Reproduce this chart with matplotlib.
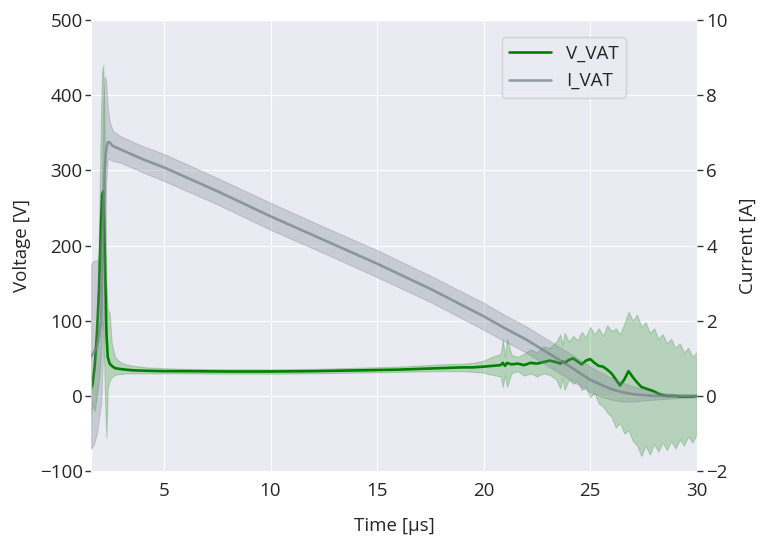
import numpy as np
import matplotlib
matplotlib.use("Agg")
import matplotlib.pyplot as plt
import seaborn as sns

# V_VAT: mean and band (V)
t_v = [1.58, 1.65, 1.75, 1.85, 1.95, 2.05, 2.10, 2.15, 2.20, 2.25, 2.30, 2.36, 2.45, 2.55, 2.7,
       2.9, 3.2, 3.6, 4.2, 5, 6, 8, 10, 12, 14, 16, 18, 19, 19.5, 20, 20.4, 20.8, 20.9, 21.0,
       21.1, 21.3, 21.6, 21.9, 22.2, 22.5, 22.8, 23.1, 23.4, 23.6, 23.7, 23.8, 24.0, 24.2, 24.4,
       24.6, 24.8, 25.0, 25.2, 25.4, 25.6, 25.8, 26.0, 26.2, 26.4, 26.6, 26.8, 27.0, 27.2, 27.4,
       27.6, 27.8, 28.0, 28.2, 28.4, 28.6, 28.8, 29.0, 29.2, 29.4, 29.6, 29.8, 30.0]
v_mean = [10, 15, 40, 80, 140, 230, 268, 272, 220, 150, 85, 52, 43, 40, 37,
          36, 35, 34, 33.5, 33, 33, 32.5, 32.5, 33, 34, 35, 37, 38, 38, 39, 40, 41, 44, 40,
          44, 42, 43, 41, 44, 43, 45, 47, 45, 43, 46, 44, 48, 50, 46,
          42, 47, 49, 44, 40, 39, 35, 30, 22, 14, 22, 33, 25, 18, 12,
          10, 8, 6, 3, 1, 0, 0, 0, -1, -1, -1, -1, 0]
v_hi = [20, 25, 60, 110, 220, 380, 430, 440, 380, 250, 150, 115, 110, 70, 52,
        46, 42, 40, 38, 37, 36, 35.5, 35.5, 36, 37.5, 39, 42, 43, 44, 47, 52, 56, 75, 52,
        76, 55, 52, 56, 62, 58, 66, 64, 72, 82, 68, 84, 72, 80, 74,
        85, 78, 92, 82, 90, 80, 94, 86, 90, 82, 96, 112, 100, 108, 92,
        98, 84, 90, 76, 82, 70, 76, 64, 70, 58, 64, 52, 58]
v_lo = [-30, -10, -20, 0, 20, 60, 100, 90, 40, -20, -55, 10, 20, 25, 28,
        29, 30, 30, 30, 30, 30, 29.5, 29.5, 30, 31, 32, 33, 33, 32, 31, 28, 26, 12, 28,
        12, 30, 33, 27, 30, 26, 30, 28, 22, 10, 24, 8, 22, 16, 20,
        8, 12, -2, 4, -10, -14, -22, -28, -42, -36, -50, -46, -60, -66, -80,
        -66, -78, -64, -74, -62, -72, -60, -70, -58, -66, -54, -62, -50]

# I_VAT: mean and band (A)
t_i = [1.58, 1.7, 1.85, 1.95, 2.05, 2.15, 2.22, 2.28, 2.36, 2.45, 2.6, 3, 4, 5, 7.5, 10,
       12.5, 15, 17.5, 20, 21, 22, 23, 24, 25, 25.5, 26, 26.5, 27, 27.5, 28, 29, 30]
i_mean = [1.05, 1.15, 1.3, 1.6, 2.0, 4.7, 6.0, 6.5, 6.75, 6.75, 6.65, 6.55, 6.3, 6.08, 5.45, 4.78,
          4.15, 3.52, 2.85, 2.12, 1.8, 1.5, 1.15, 0.8, 0.43, 0.3, 0.18, 0.1, 0.05, 0.02, 0.0, 0.0, 0.0]
i_hi = [3.5, 3.6, 3.6, 3.7, 4.5, 7.8, 8.5, 8.4, 7.7, 7.3, 7.05, 6.9, 6.65, 6.44, 5.8, 5.14,
        4.5, 3.88, 3.2, 2.48, 2.15, 1.85, 1.5, 1.15, 0.78, 0.62, 0.48, 0.36, 0.26, 0.18, 0.1, 0.05, 0.04]
i_lo = [-1.4, -1.3, -1.0, -0.6, -0.2, 1.2, 3.5, 5.6, 6.3, 6.3, 6.25, 6.2, 5.95, 5.72, 5.1, 4.42,
        3.8, 3.16, 2.5, 1.76, 1.45, 1.15, 0.8, 0.45, 0.1, -0.02, -0.1, -0.15, -0.15, -0.12, -0.1, -0.06, -0.04]

sns.set_style("darkgrid")
plt.rcParams['font.family'] = ['Open Sans', 'DejaVu Sans']
fs = 13.5

fig = plt.figure(figsize=(7.59, 5.44), dpi=100)
ax = fig.add_axes([0.12, 0.134, 0.798, 0.829])
ax2 = ax.twinx()

# voltage
ax.fill_between(t_v, v_lo, v_hi, color='green', alpha=0.22, linewidth=0.8)
l1, = ax.plot(t_v, v_mean, color='green', linewidth=1.9, label='V_VAT')

# current
ax2.fill_between(t_i, i_lo, i_hi, color='#78848c', alpha=0.3, linewidth=0.8)
l2, = ax2.plot(t_i, i_mean, color='#78848c', alpha=0.75, linewidth=1.9, label='I_VAT')

ax.set_xlim(1.58, 30)
ax.set_ylim(-100, 500)
ax2.set_ylim(-2, 10)
ax2.grid(False)
for s in ax2.spines.values():
    s.set_visible(False)

ax.set_xticks([5, 10, 15, 20, 25, 30])
ax.set_yticks([-100, 0, 100, 200, 300, 400, 500])
ax2.set_yticks([-2, 0, 2, 4, 6, 8, 10])
ax.set_yticklabels(['\u2212100', '0', '100', '200', '300', '400', '500'])
ax2.set_yticklabels(['\u22122', '0', '2', '4', '6', '8', '10'])

ax.tick_params(axis='x', length=0, pad=8, labelsize=fs, labelcolor='#262626')
ax.tick_params(axis='y', length=4, width=1, color='#333333', pad=2, labelsize=fs, labelcolor='#262626')
ax2.tick_params(axis='y', length=4, width=1, color='#333333', pad=3, labelsize=fs, labelcolor='#262626')

ax.set_xlabel('Time [µs]', fontsize=fs, labelpad=12, color='#262626')
ax.set_ylabel('Voltage [V]', fontsize=fs, labelpad=6, color='#262626')
ax2.set_ylabel('Current [A]', fontsize=fs, labelpad=8, color='#262626')

ax2.legend([l1, l2], ['V_VAT', 'I_VAT'], loc='upper right', bbox_to_anchor=(0.883, 0.962),
           borderaxespad=0, fontsize=fs, handlelength=2.2)

fig.savefig('out.png', dpi=100)
